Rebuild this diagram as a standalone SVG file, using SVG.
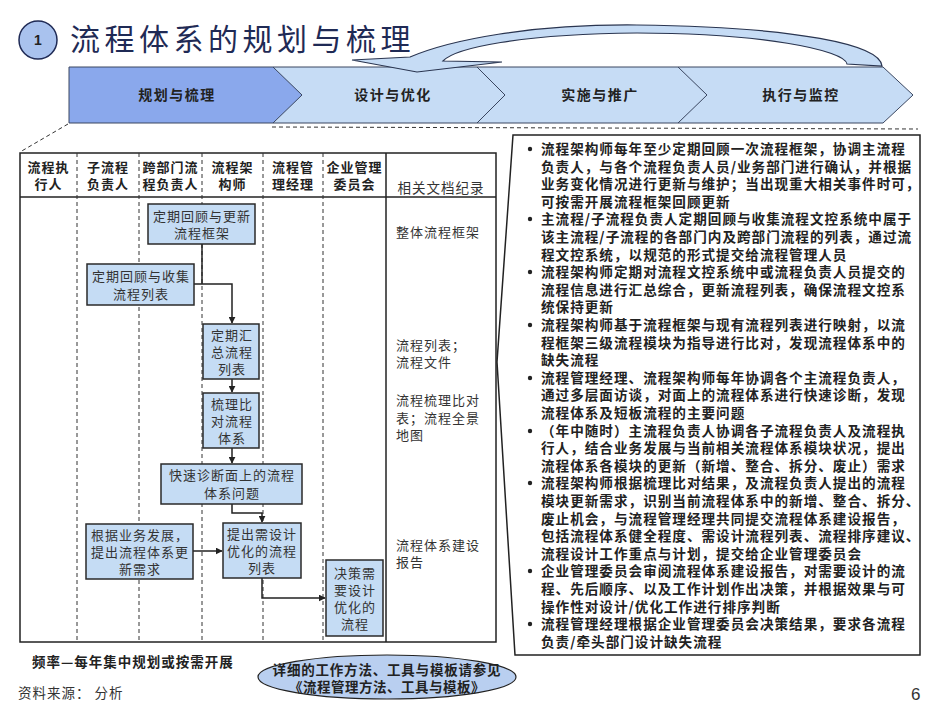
<svg xmlns="http://www.w3.org/2000/svg" width="941" height="706" viewBox="0 0 941 706">
<defs>
<marker id="arr" viewBox="0 0 10 10" refX="9" refY="5" markerWidth="7" markerHeight="7" orient="auto" markerUnits="userSpaceOnUse">
<path d="M0,0 L10,5 L0,10 Z" fill="#222"/>
</marker>
<style>
text{font-family:"Noto Sans CJK SC","Noto Sans",sans-serif;fill:#222}
.chev{fill:#c6dcf5;stroke:#3a4660;stroke-width:1}
.chev1{fill:#8aa8ec;stroke:#3a4660;stroke-width:1}
.cl{font-size:14px;font-weight:bold;text-anchor:middle;letter-spacing:1.5px}
.hd{font-size:13px;font-weight:bold;text-anchor:middle;letter-spacing:1px}
.box{fill:#c5dcf4;stroke:#2a2a2a;stroke-width:1.5}
.bt{font-size:13px;text-anchor:middle;letter-spacing:1px;fill:#333}
.doc{font-size:13px;letter-spacing:1px;fill:#333}
.dash{stroke:#333;stroke-width:1;stroke-dasharray:4,3;fill:none}
.conn{stroke:#222;stroke-width:1.5;fill:none}
.rt{font-size:13.6px;font-weight:bold;letter-spacing:1px}
.bul{fill:#222}
</style>
</defs>

<g id="title">
<circle cx="38" cy="40" r="19" fill="#a9c2ee" stroke="#1f2a55" stroke-width="1.5"/>
<text x="38" y="45" style="font-size:14px;font-weight:bold;text-anchor:middle;font-family:'Liberation Sans',sans-serif">1</text>
<text x="70" y="50" style="font-size:30px;letter-spacing:4.5px;fill:#1f2a55">流程体系的规划与梳理</text>
</g>

<g id="phases">
<polygon class="chev" points="678,67 883,67 913,95 883,123 678,123"/>
<polygon class="chev" points="477,67 678,67 707,95 678,123 477,123"/>
<polygon class="chev" points="273,67 477,67 505,95 477,123 273,123"/>
<polygon class="chev1" points="69,67 273,67 302,95 273,123 69,123"/>
<text class="cl" x="177" y="100">规划与梳理</text>
<text class="cl" x="393" y="100">设计与优化</text>
<text class="cl" x="600" y="100">实施与推广</text>
<text class="cl" x="801" y="100">执行与监控</text>
</g>

<g id="loop-arrow">
<path d="M 882 66 C 880 45, 800 27, 637 25 C 530 24, 450 40, 410 57 L 352 60 L 417 72 L 502 62 L 443 61 C 455 48, 520 34, 637 33 C 760 33, 845 50, 847 64 Z" fill="#c6dcf5" stroke="#2a3550" stroke-width="1.2"/>
</g>

<g id="zoom-lines">
<path class="dash" d="M 68 124 L 20 152"/>
<path class="dash" d="M 272 127 L 918 129"/>
</g>

<g id="swimlane">
<rect x="20" y="153" width="476" height="489" fill="#fff" stroke="#222" stroke-width="1.5"/>
<line x1="20" y1="197" x2="496" y2="197" stroke="#222" stroke-width="1.5"/>
<line x1="386" y1="153" x2="386" y2="642" stroke="#222" stroke-width="1.5"/>
<path class="dash" d="M77 153 V642 M139 153 V642 M202 153 V642 M263 153 V642 M323 153 V642"/>
<text class="hd" x="48.5" y="172">流程执</text><text class="hd" x="48.5" y="189">行人</text>
<text class="hd" x="108" y="172">子流程</text><text class="hd" x="108" y="189">负责人</text>
<text class="hd" x="170.5" y="172">跨部门流</text><text class="hd" x="170.5" y="189">程负责人</text>
<text class="hd" x="232.5" y="172">流程架</text><text class="hd" x="232.5" y="189">构师</text>
<text class="hd" x="293" y="172">流程管</text><text class="hd" x="293" y="189">理经理</text>
<text class="hd" x="354.5" y="172">企业管理</text><text class="hd" x="354.5" y="189">委员会</text>
<text x="441" y="193" style="font-size:13.5px;letter-spacing:1px;text-anchor:middle;fill:#333">相关文档纪录</text>
</g>

<g id="docs">
<text class="doc" x="396" y="237">整体流程框架</text>
<text class="doc" x="396" y="350">流程列表；</text>
<text class="doc" x="396" y="367">流程文件</text>
<text class="doc" x="396" y="405">流程梳理比对</text>
<text class="doc" x="396" y="423">表；流程全景</text>
<text class="doc" x="396" y="440">地图</text>
<text class="doc" x="396" y="550">流程体系建设</text>
<text class="doc" x="396" y="567">报告</text>
</g>

<g id="connectors">
<path class="conn" d="M 202 244 V 284"/>
<path class="conn" d="M 194 284 H 232 V 323" marker-end="url(#arr)"/>
<path class="conn" d="M 232 379 V 392" marker-end="url(#arr)"/>
<path class="conn" d="M 232 448 V 463" marker-end="url(#arr)"/>
<path class="conn" d="M 232 504 V 513 H 262 V 522" marker-end="url(#arr)"/>
<path class="conn" d="M 193 551 H 222" marker-end="url(#arr)"/>
<path class="conn" d="M 262 578 V 598 H 325" marker-end="url(#arr)"/>
</g>

<g id="n1"><rect class="box" x="148" y="204" width="107" height="40"/>
<text class="bt" x="202" y="221">定期回顾与更新</text><text class="bt" x="202" y="238">流程框架</text></g>
<g id="n2"><rect class="box" x="87" y="264" width="107" height="41"/>
<text class="bt" x="141" y="281">定期回顾与收集</text><text class="bt" x="141" y="299">流程列表</text></g>
<g id="n3"><rect class="box" x="203" y="324" width="56" height="55"/>
<text class="bt" x="232" y="340">定期汇</text><text class="bt" x="232" y="357">总流程</text><text class="bt" x="232" y="374">列表</text></g>
<g id="n4"><rect class="box" x="203" y="393" width="56" height="55"/>
<text class="bt" x="232" y="409">梳理比</text><text class="bt" x="232" y="426">对流程</text><text class="bt" x="232" y="443">体系</text></g>
<g id="n5"><rect class="box" x="161" y="464" width="141" height="40"/>
<text class="bt" x="232" y="480">快速诊断面上的流程</text><text class="bt" x="232" y="498">体系问题</text></g>
<g id="n6"><rect class="box" x="86" y="524" width="107" height="55"/>
<text class="bt" x="140" y="540">根据业务发展，</text><text class="bt" x="140" y="557">提出流程体系更</text><text class="bt" x="140" y="574">新需求</text></g>
<g id="n7"><rect class="box" x="223" y="523" width="78" height="55"/>
<text class="bt" x="262" y="539">提出需设计</text><text class="bt" x="262" y="556">优化的流程</text><text class="bt" x="262" y="573">列表</text></g>
<g id="n8"><rect class="box" x="326" y="560" width="57" height="76"/>
<text class="bt" x="355" y="578">决策需</text><text class="bt" x="355" y="595">要设计</text><text class="bt" x="355" y="612">优化的</text><text class="bt" x="355" y="629">流程</text></g>

<g id="notes">
<polygon points="513,135 920,135 920,655 515,655 497,362" fill="#fff" stroke="#222" stroke-width="1.5"/>
<circle class="bul" cx="530" cy="149" r="2.2"/>
<circle class="bul" cx="530" cy="219" r="2.2"/>
<circle class="bul" cx="530" cy="272" r="2.2"/>
<circle class="bul" cx="530" cy="325" r="2.2"/>
<circle class="bul" cx="530" cy="378" r="2.2"/>
<circle class="bul" cx="530" cy="431" r="2.2"/>
<circle class="bul" cx="530" cy="483" r="2.2"/>
<circle class="bul" cx="530" cy="571" r="2.2"/>
<circle class="bul" cx="530" cy="624" r="2.2"/>
<text class="rt" x="541" y="154">流程架构师每年至少定期回顾一次流程框架，协调主流程</text>
<text class="rt" x="541" y="172">负责人，与各个流程负责人员/业务部门进行确认，并根据</text>
<text class="rt" x="541" y="189">业务变化情况进行更新与维护；当出现重大相关事件时可，</text>
<text class="rt" x="541" y="207">可按需开展流程框架回顾更新</text>
<text class="rt" x="541" y="224">主流程/子流程负责人定期回顾与收集流程文控系统中属于</text>
<text class="rt" x="541" y="242">该主流程/子流程的各部门内及跨部门流程的列表，通过流</text>
<text class="rt" x="541" y="260">程文控系统，以规范的形式提交给流程管理人员</text>
<text class="rt" x="541" y="277">流程架构师定期对流程文控系统中或流程负责人员提交的</text>
<text class="rt" x="541" y="295">流程信息进行汇总综合，更新流程列表，确保流程文控系</text>
<text class="rt" x="541" y="312">统保持更新</text>
<text class="rt" x="541" y="330">流程架构师基于流程框架与现有流程列表进行映射，以流</text>
<text class="rt" x="541" y="348">程框架三级流程模块为指导进行比对，发现流程体系中的</text>
<text class="rt" x="541" y="365">缺失流程</text>
<text class="rt" x="541" y="383">流程管理经理、流程架构师每年协调各个主流程负责人，</text>
<text class="rt" x="541" y="400">通过多层面访谈，对面上的流程体系进行快速诊断，发现</text>
<text class="rt" x="541" y="418">流程体系及短板流程的主要问题</text>
<text class="rt" x="541" y="436">（年中随时）主流程负责人协调各子流程负责人及流程执</text>
<text class="rt" x="541" y="453">行人，结合业务发展与当前相关流程体系模块状况，提出</text>
<text class="rt" x="541" y="471">流程体系各模块的更新（新增、整合、拆分、废止）需求</text>
<text class="rt" x="541" y="488">流程架构师根据梳理比对结果，及流程负责人提出的流程</text>
<text class="rt" x="541" y="506">模块更新需求，识别当前流程体系中的新增、整合、拆分、</text>
<text class="rt" x="541" y="524">废止机会，与流程管理经理共同提交流程体系建设报告，</text>
<text class="rt" x="541" y="541">包括流程体系健全程度、需设计流程列表、流程排序建议、</text>
<text class="rt" x="541" y="559">流程设计工作重点与计划，提交给企业管理委员会</text>
<text class="rt" x="541" y="576">企业管理委员会审阅流程体系建设报告，对需要设计的流</text>
<text class="rt" x="541" y="594">程、先后顺序、以及工作计划作出决策，并根据效果与可</text>
<text class="rt" x="541" y="612">操作性对设计/优化工作进行排序判断</text>
<text class="rt" x="541" y="629">流程管理经理根据企业管理委员会决策结果，要求各流程</text>
<text class="rt" x="541" y="647">负责/牵头部门设计缺失流程</text>
</g>

<g id="footer">
<text x="32" y="667" style="font-size:13.5px;font-weight:bold;letter-spacing:1px">频率—每年集中规划或按需开展</text>
<text x="18" y="698" style="font-size:13.5px;letter-spacing:1px;fill:#333">资料来源： 分析</text>
<text x="911" y="700" style="font-size:17px;font-family:'Liberation Sans',sans-serif;fill:#333">6</text>
</g>

<g id="reference-note">
<ellipse cx="387" cy="677" rx="129" ry="22" fill="#b9cff0" stroke="#222" stroke-width="1.2"/>
<text x="387" y="675" style="font-size:13.5px;font-weight:bold;letter-spacing:0.8px;text-anchor:middle">详细的工作方法、工具与模板请参见</text>
<text x="387" y="692" style="font-size:13.5px;font-weight:bold;letter-spacing:0.5px;text-anchor:middle">《流程管理方法、工具与模板》</text>
</g>
</svg>
